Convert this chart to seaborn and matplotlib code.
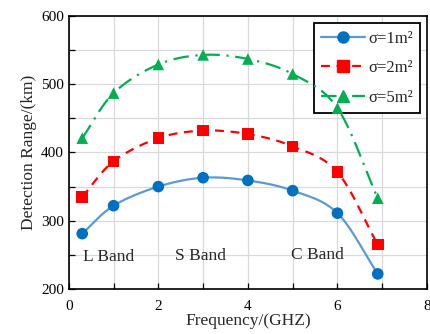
import numpy as np
import pandas as pd
import matplotlib
matplotlib.use('Agg')
import matplotlib.pyplot as plt
import seaborn as sns

freq = [0.3, 1, 2, 3, 4, 5, 6, 6.9]
sigma1 = [281, 322, 350, 363, 359, 344, 311, 222]
sigma2 = [335, 387, 421, 432, 427, 409, 371, 265]
sigma5 = [421, 487, 529, 543, 537, 515, 465, 333]
labels = ['σ=1m²', 'σ=2m²', 'σ=5m²']
bands = ['L Band', 'S Band', 'C Band']
band_x = [0.89, 2.94, 5.55]
band_y = [247, 248, 250]


def smooth(x, y, n=20):
    # catmull-rom style curve through the points (like excel smoothed line)
    x = np.asarray(x, float)
    y = np.asarray(y, float)
    px = np.concatenate([[2 * x[0] - x[1]], x, [2 * x[-1] - x[-2]]])
    py = np.concatenate([[2 * y[0] - y[1]], y, [2 * y[-1] - y[-2]]])
    xs, ys = [], []
    for i in range(1, len(px) - 2):
        t = np.linspace(0, 1, n, endpoint=False)
        for p, out in ((px, xs), (py, ys)):
            p0, p1, p2, p3 = p[i - 1], p[i], p[i + 1], p[i + 2]
            out.extend(0.5 * (2 * p1 + (-p0 + p2) * t + (2 * p0 - 5 * p1 + 4 * p2 - p3) * t ** 2
                              + (-p0 + 3 * p1 - 3 * p2 + p3) * t ** 3))
    xs.append(x[-1])
    ys.append(y[-1])
    return xs, ys


sns.set_style('whitegrid')
plt.rcParams['font.family'] = ['Liberation Serif', 'DejaVu Serif']
plt.rcParams['font.size'] = 11

fig = plt.figure(figsize=(4.3, 3.34), dpi=100)
ax = fig.add_axes([0.160, 0.135, 0.833, 0.817])

series = [sigma1, sigma2, sigma5]
colors = ['#0070C0', '#FF0000', '#00B050']
linecolors = ['#5B9BD5', '#FF0000', '#00B050']
styles = ['-', (0, (4, 3)), (0, (7, 3, 1, 3))]
markers = ['o', 's', '^']

df = pd.DataFrame({'freq': freq * 3,
                   'range': sigma1 + sigma2 + sigma5,
                   'sigma': np.repeat(labels, len(freq))})

handles = []
for lab, ys, c, lc, ls, m in zip(labels, series, colors, linecolors, styles, markers):
    sx, sy = smooth(freq, ys)
    sns.lineplot(x=sx, y=sy, ax=ax, color=lc, linestyle=ls, linewidth=1.6, sort=False,
                 legend=False)
    sub = df[df['sigma'] == lab]
    sns.scatterplot(data=sub, x='freq', y='range', ax=ax, color=c, marker=m, s=70,
                    edgecolor='none', legend=False, zorder=3)
    h, = ax.plot([], [], color=lc, linestyle=ls, linewidth=1.6, marker=m,
                 markerfacecolor=c, markeredgecolor=c, markersize=8)
    handles.append(h)

ax.set_xlim(0, 8)
ax.set_ylim(200, 600)
ax.set_xticks(np.arange(0, 9, 2))
ax.set_xticks(np.arange(0, 9, 1), minor=True)
ax.set_yticks(np.arange(200, 601, 100))
ax.set_yticks(np.arange(200, 601, 50), minor=True)
ax.grid(True, which='both', color='#D9D9D9', linewidth=0.9)
ax.tick_params(which='both', direction='in', length=4, width=0.9, colors='black',
               bottom=True, left=True)
ax.tick_params(axis='x', pad=8)
for s in ax.spines.values():
    s.set_color('black')
    s.set_linewidth(1.2)

ax.set_xlabel('Frequency/(GHZ)', fontsize=12.5, labelpad=0)
ax.set_ylabel('Detection Range/(km)', fontsize=12.5, labelpad=3)

for t, bx, by in zip(bands, band_x, band_y):
    ax.text(bx, by, t, fontsize=12.5, ha='center', va='center')

leg = ax.legend(handles, labels, loc='upper right', bbox_to_anchor=(0.99, 0.985),
                fontsize=12, frameon=True, fancybox=False, handlelength=2.6,
                borderpad=0.45, labelspacing=0.8, handletextpad=0.2, borderaxespad=0.2)
leg.get_frame().set_edgecolor('black')
leg.get_frame().set_linewidth(1.3)
leg.get_frame().set_alpha(1)
leg.set_zorder(1.9)

fig.savefig('out.png', dpi=100)
